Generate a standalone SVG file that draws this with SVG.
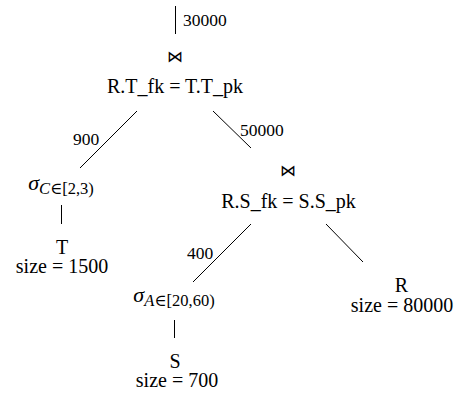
<svg xmlns="http://www.w3.org/2000/svg" width="457" height="403" viewBox="0 0 457 403">
<style>
text { font-family: "Liberation Serif", "DejaVu Serif", serif; fill: #000; }
.lbl { font-size: 20px; text-anchor: middle; }
.edge { font-size: 17.5px; }
.join { font-family: "DejaVu Sans", sans-serif; font-size: 16px; text-anchor: middle; }
.it { font-style: italic; }
.sig { font-style: italic; font-size: 22px; }
.sub { font-size: 16.5px; }
line { stroke: #000; stroke-width: 1; }
</style>
<rect width="457" height="403" fill="#fff"/>
<g id="connectors">
  <line x1="175.5" y1="6" x2="175.5" y2="34"/>
  <line x1="137" y1="111" x2="80" y2="168"/>
  <line x1="213" y1="111" x2="251" y2="148"/>
  <line x1="61.5" y1="205" x2="61.5" y2="224"/>
  <line x1="251" y1="224" x2="193" y2="282"/>
  <line x1="326" y1="224" x2="363" y2="262"/>
  <line x1="174.5" y1="320" x2="174.5" y2="338"/>
  <text class="edge" x="183" y="26">30000</text>
  <text class="edge" x="73" y="145">900</text>
  <text class="edge" x="240" y="136">50000</text>
  <text class="edge" x="187" y="259">400</text>
</g>
<g id="join1">
  <text class="join" x="175" y="62">⋈</text>
  <text class="lbl" x="175" y="92.5">R.T_fk = T.T_pk</text>
</g>
<g id="selectC">
  <text x="61" y="190" text-anchor="middle" font-size="20"><tspan class="sig">σ</tspan><tspan class="sub" dy="3.5"><tspan class="it">C</tspan>∈[2,3)</tspan></text>
</g>
<g id="T">
  <text class="lbl" x="62" y="254">T</text>
  <text class="lbl" x="62" y="273">size = 1500</text>
</g>
<g id="join2">
  <text class="join" x="288" y="176">⋈</text>
  <text class="lbl" x="288.5" y="208">R.S_fk = S.S_pk</text>
</g>
<g id="selectA">
  <text x="174" y="302" text-anchor="middle" font-size="20"><tspan class="sig">σ</tspan><tspan class="sub" dy="4"><tspan class="it">A</tspan>∈[20,60)</tspan></text>
</g>
<g id="S">
  <text class="lbl" x="175" y="368">S</text>
  <text class="lbl" x="177" y="387">size = 700</text>
</g>
<g id="R">
  <text class="lbl" x="401.5" y="292">R</text>
  <text class="lbl" x="402" y="312">size = 80000</text>
</g>
</svg>
